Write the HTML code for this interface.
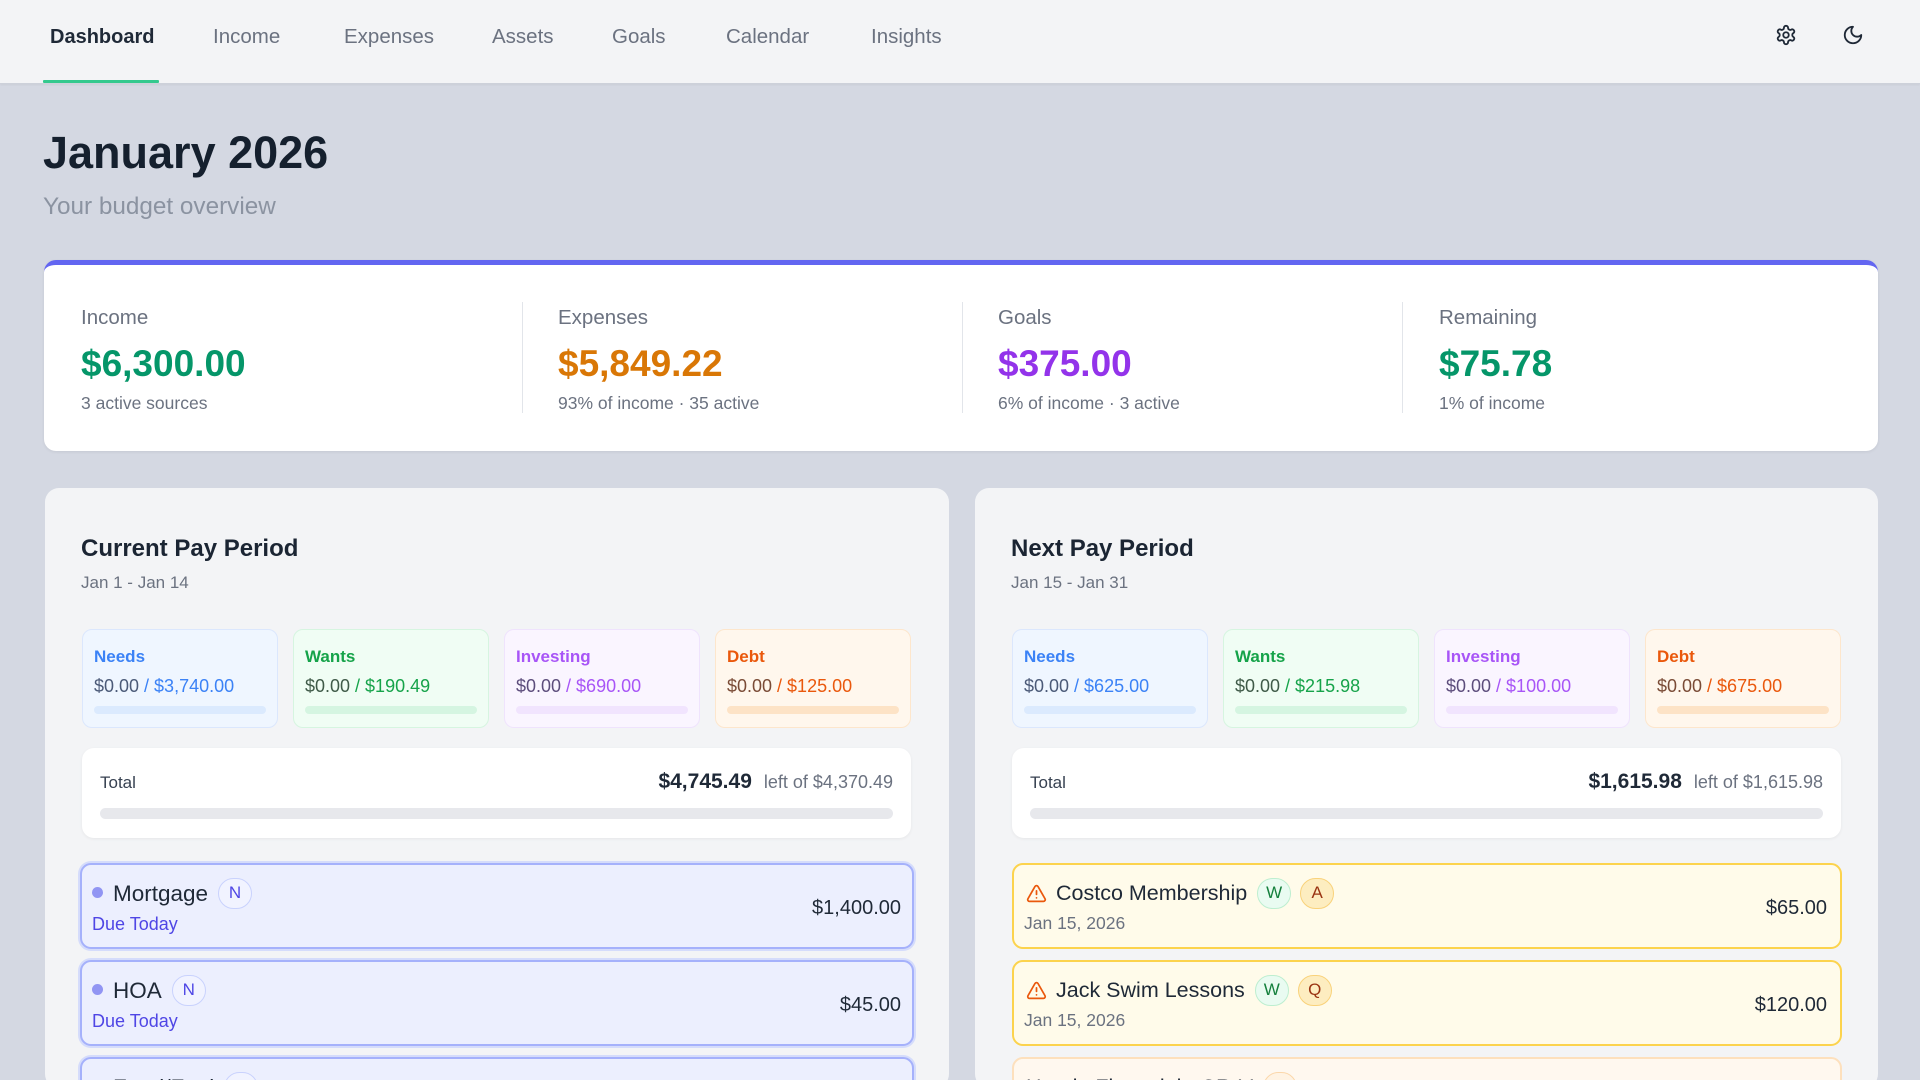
<!DOCTYPE html>
<html><head><meta charset="utf-8">
<style>
*{margin:0;padding:0;box-sizing:border-box}
html,body{width:1920px;height:1080px;overflow:hidden}
body{background:#d4d8e2;font-family:"Liberation Sans",Arial,sans-serif;color:#1f2937}
#wrap{position:relative;width:1920px;height:1080px;overflow:hidden;background:#d4d8e2}
.abs{position:absolute;white-space:nowrap;line-height:1}
.nav{position:absolute;left:0;top:0;width:1920px;height:84px;background:#f3f4f6;border-bottom:1px solid #cdd1da;box-shadow:0 1px 2px rgba(0,0,0,.05)}
.ni{position:absolute;top:27px;font-size:20.5px;color:#6b7280;line-height:1}
.card{position:absolute;left:44px;top:260px;width:1834px;height:191px;background:#fff;border-radius:12px;border-top:5px solid #6366f1;box-shadow:0 1px 3px rgba(0,0,0,.07)}
.sl{position:absolute;top:308px;font-size:20.5px;color:#6b7280;line-height:1}
.sv{position:absolute;top:345px;font-size:37px;font-weight:bold;line-height:1}
.ss{position:absolute;top:395px;font-size:17.5px;color:#6b7280;line-height:1;white-space:nowrap}
.dv{position:absolute;top:302px;width:1px;height:111px;background:#e2e5ea}
.panel{position:absolute;top:488px;width:904px;height:600px;background:#f3f4f6;border-radius:14px}
.pt{position:absolute;top:537px;font-size:24px;font-weight:bold;color:#1b2533;line-height:1;white-space:nowrap}
.ps{position:absolute;top:574px;font-size:17px;color:#6b7280;line-height:1}
.box{position:absolute;top:629px;width:196px;height:99px;border-radius:10px;border:1.5px solid}
.box .l{position:absolute;left:11px;top:17.5px;font-size:17px;font-weight:bold;line-height:1}
.box .a{position:absolute;left:11px;top:47px;font-size:18px;line-height:1;white-space:nowrap}
.box .b{position:absolute;left:11px;right:11px;top:75.5px;height:8px;border-radius:4px}
.needs{background:#eff6ff;border-color:#dbe7fd}.needs .l,.needs .c{color:#3b82f6}.needs .z{color:#4b5a78}.needs .b{background:#dbeafe}
.wants{background:#f0fdf4;border-color:#d6f5e0}.wants .l,.wants .c{color:#16a34a}.wants .z{color:#3f5a48}.wants .b{background:#d5f5e1}
.inv{background:#faf5ff;border-color:#efe3fd}.inv .l,.inv .c{color:#a855f7}.inv .z{color:#5d4d7c}.inv .b{background:#f1e4fe}
.debt{background:#fff7ed;border-color:#fde6cc}.debt .l,.debt .c{color:#ea580c}.debt .z{color:#7a4b36}.debt .b{background:#fde3c6}
.tot{position:absolute;top:748px;width:829px;height:90px;background:#fff;border-radius:12px;box-shadow:0 1px 3px rgba(0,0,0,.06)}
.tot .t{position:absolute;left:18px;top:26px;font-size:17px;color:#374151;line-height:1}
.tot .r{position:absolute;right:18px;top:22px;display:flex;align-items:baseline;white-space:nowrap}
.tot .r b{font-size:21px;color:#1f2937}
.tot .r span{font-size:18px;color:#6b7280;margin-left:12px}
.tot .bar{position:absolute;left:18px;right:18px;top:60px;height:11px;border-radius:6px;background:#e7e8ec}
.item{position:absolute;height:86px;border-radius:11px;border:2px solid;overflow:hidden}
.ind{left:80px;width:834px;background:#eceffe;border-color:#a5b1fb;box-shadow:0 0 0 2px rgba(199,210,254,.7)}
.amb{left:1012px;width:830px;background:#fffbea;border-color:#fcd34d}
.org{left:1012px;width:830px;background:#fff8ef;border-color:#fde0bd}
.item .row{position:absolute;top:13px;height:31px;display:flex;align-items:center;white-space:nowrap}
.item .nm{font-size:21.5px;color:#1f2937;line-height:31px}
.item .dot{position:absolute;left:10px;top:22px;width:11px;height:11px;border-radius:50%;background:#9195f3}
.bd{display:inline-block;height:31px;width:34px;border-radius:16px;border:1.5px solid;font-size:17px;line-height:28px;text-align:center;margin-left:10px}
.bN{background:#f1f3ff;border-color:#c9d2fd;color:#4f46e5}
.bW{background:#e9fbf1;border-color:#bdeed0;color:#15803d}
.bA{background:#fdedc0;border-color:#f9d27a;color:#9a3412}
.item .sub{position:absolute;left:10px;top:50px;font-size:18px;line-height:1;white-space:nowrap}
.item .amt{position:absolute;right:11px;top:33px;font-size:20px;line-height:1;color:#1f2937}
</style></head><body><div id="wrap">

<div class="nav"></div>
<div class="ni" style="left:50px;color:#1f2937;font-weight:bold;font-size:20px">Dashboard</div>
<div class="ni" style="left:213px">Income</div>
<div class="ni" style="left:344px">Expenses</div>
<div class="ni" style="left:492px">Assets</div>
<div class="ni" style="left:612px">Goals</div>
<div class="ni" style="left:726px">Calendar</div>
<div class="ni" style="left:871px">Insights</div>
<div style="position:absolute;left:43px;top:80px;width:116px;height:3px;background:#34c98e;border-radius:1px"></div>
<svg style="position:absolute;left:1775px;top:24px" width="22" height="22" viewBox="0 0 24 24" fill="none" stroke="#1f2937" stroke-width="2" stroke-linecap="round" stroke-linejoin="round"><path d="M12.22 2h-.44a2 2 0 0 0-2 2v.18a2 2 0 0 1-1 1.73l-.43.25a2 2 0 0 1-2 0l-.15-.08a2 2 0 0 0-2.73.73l-.22.38a2 2 0 0 0 .73 2.73l.15.1a2 2 0 0 1 1 1.72v.51a2 2 0 0 1-1 1.74l-.15.09a2 2 0 0 0-.73 2.73l.22.38a2 2 0 0 0 2.730.73l.15-.08a2 2 0 0 1 2 0l.43.25a2 2 0 0 1 1 1.73V20a2 2 0 0 0 2 2h.44a2 2 0 0 0 2-2v-.18a2 2 0 0 1 1-1.73l.43-.25a2 2 0 0 1 2 0l.15.08a2 2 0 0 0 2.73-.73l.22-.39a2 2 0 0 0-.73-2.73l-.15-.08a2 2 0 0 1-1-1.74v-.5a2 2 0 0 1 1-1.740l.15-.09a2 2 0 0 0 .73-2.73l-.22-.38a2 2 0 0 0-2.73-.73l-.15.08a2 2 0 0 1-2 0l-.43-.25a2 2 0 0 1-1-1.73V4a2 2 0 0 0-2-2z"/><circle cx="12" cy="12" r="3"/></svg>
<svg style="position:absolute;left:1842px;top:24px" width="22" height="22" viewBox="0 0 24 24" fill="none" stroke="#1f2937" stroke-width="2" stroke-linecap="round" stroke-linejoin="round"><path d="M12 3a6 6 0 0 0 9 9 9 9 0 1 1-9-9Z"/></svg>

<div class="abs" style="left:43px;top:130px;font-size:45px;font-weight:bold;color:#15202e">January 2026</div>
<div class="abs" style="left:43px;top:195px;font-size:24.3px;color:#8b93a1">Your budget overview</div>

<div class="card"></div>
<div class="sl" style="left:81px">Income</div>
<div class="sv" style="left:81px;color:#059669">$6,300.00</div>
<div class="ss" style="left:81px">3 active sources</div>
<div class="dv" style="left:522px"></div>
<div class="sl" style="left:558px">Expenses</div>
<div class="sv" style="left:558px;color:#d97706">$5,849.22</div>
<div class="ss" style="left:558px">93% of income · 35 active</div>
<div class="dv" style="left:962px"></div>
<div class="sl" style="left:998px">Goals</div>
<div class="sv" style="left:998px;color:#9333ea">$375.00</div>
<div class="ss" style="left:998px">6% of income · 3 active</div>
<div class="dv" style="left:1402px"></div>
<div class="sl" style="left:1439px">Remaining</div>
<div class="sv" style="left:1439px;color:#059669">$75.78</div>
<div class="ss" style="left:1439px">1% of income</div>

<!-- Left panel -->
<div class="panel" style="left:45px"></div>
<div class="pt" style="left:81px">Current Pay Period</div>
<div class="ps" style="left:81px">Jan 1 - Jan 14</div>
<div class="box needs" style="left:82px"><div class="l">Needs</div><div class="a"><span class="z">$0.00 </span><span class="c">/ $3,740.00</span></div><div class="b"></div></div>
<div class="box wants" style="left:293px"><div class="l">Wants</div><div class="a"><span class="z">$0.00 </span><span class="c">/ $190.49</span></div><div class="b"></div></div>
<div class="box inv" style="left:504px"><div class="l">Investing</div><div class="a"><span class="z">$0.00 </span><span class="c">/ $690.00</span></div><div class="b"></div></div>
<div class="box debt" style="left:715px"><div class="l">Debt</div><div class="a"><span class="z">$0.00 </span><span class="c">/ $125.00</span></div><div class="b"></div></div>
<div class="tot" style="left:82px"><div class="t">Total</div><div class="r"><b>$4,745.49</b><span>left of $4,370.49</span></div><div class="bar"></div></div>

<div class="item ind" style="top:863px"><div class="dot"></div><div class="row" style="left:31px"><span class="nm" style="font-size:22.5px">Mortgage</span><span class="bd bN">N</span></div><div class="sub" style="color:#4f46e5">Due Today</div><div class="amt">$1,400.00</div></div>
<div class="item ind" style="top:960px"><div class="dot"></div><div class="row" style="left:31px"><span class="nm" style="font-size:22.5px">HOA</span><span class="bd bN">N</span></div><div class="sub" style="color:#4f46e5">Due Today</div><div class="amt">$45.00</div></div>
<div class="item ind" style="top:1057px;height:40px"><div class="dot"></div><div class="row" style="left:31px"><span class="nm" style="font-size:22.5px">Food/Fuel</span><span class="bd bN">N</span></div></div>

<!-- Right panel -->
<div class="panel" style="left:975px;width:903px"></div>
<div class="pt" style="left:1011px">Next Pay Period</div>
<div class="ps" style="left:1011px">Jan 15 - Jan 31</div>
<div class="box needs" style="left:1012px"><div class="l">Needs</div><div class="a"><span class="z">$0.00 </span><span class="c">/ $625.00</span></div><div class="b"></div></div>
<div class="box wants" style="left:1223px"><div class="l">Wants</div><div class="a"><span class="z">$0.00 </span><span class="c">/ $215.98</span></div><div class="b"></div></div>
<div class="box inv" style="left:1434px"><div class="l">Investing</div><div class="a"><span class="z">$0.00 </span><span class="c">/ $100.00</span></div><div class="b"></div></div>
<div class="box debt" style="left:1645px"><div class="l">Debt</div><div class="a"><span class="z">$0.00 </span><span class="c">/ $675.00</span></div><div class="b"></div></div>
<div class="tot" style="left:1012px"><div class="t">Total</div><div class="r"><b>$1,615.98</b><span>left of $1,615.98</span></div><div class="bar"></div></div>

<div class="item amb" style="top:863px"><div class="row" style="left:12px"><svg width="21" height="21" viewBox="0 0 24 24" fill="none" stroke="#ea580c" stroke-width="2" stroke-linecap="round" stroke-linejoin="round" style="margin-right:9px"><path d="m21.73 18-8-14a2 2 0 0 0-3.48 0l-8 14A2 2 0 0 0 4 21h16a2 2 0 0 0 1.73-3"/><path d="M12 9v4"/><path d="M12 17h.01"/></svg><span class="nm">Costco Membership</span><span class="bd bW">W</span><span class="bd bA" style="margin-left:9px">A</span></div><div class="sub" style="color:#6b7280;font-size:17.5px">Jan 15, 2026</div><div class="amt" style="right:13px">$65.00</div></div>
<div class="item amb" style="top:960px"><div class="row" style="left:12px"><svg width="21" height="21" viewBox="0 0 24 24" fill="none" stroke="#ea580c" stroke-width="2" stroke-linecap="round" stroke-linejoin="round" style="margin-right:9px"><path d="m21.73 18-8-14a2 2 0 0 0-3.48 0l-8 14A2 2 0 0 0 4 21h16a2 2 0 0 0 1.73-3"/><path d="M12 9v4"/><path d="M12 17h.01"/></svg><span class="nm">Jack Swim Lessons</span><span class="bd bW">W</span><span class="bd bA" style="margin-left:9px">Q</span></div><div class="sub" style="color:#6b7280;font-size:17.5px">Jan 15, 2026</div><div class="amt" style="right:13px">$120.00</div></div>
<div class="item org" style="top:1057px;height:40px"><div class="row" style="left:12px"><span class="nm">Honda Financial - CR-V</span><span class="bd" style="background:#fff3e3;border-color:#fbd7aa;color:#9a3412">D</span></div></div>

</div></body></html>
